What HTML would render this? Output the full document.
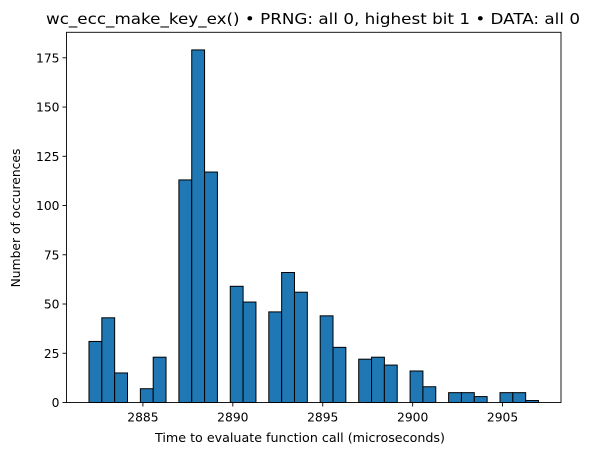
<!DOCTYPE html>
<html><head><meta charset="utf-8"><style>
body{margin:0;background:#fff;font-family:"Liberation Sans","DejaVu Sans",sans-serif}
svg text{font-family:"DejaVu Sans","Liberation Sans",sans-serif;fill:#000}
</style></head><body>
<svg id="c" width="591" height="455" xmlns="http://www.w3.org/2000/svg"></svg>
<script>
const binStart = 2882;
const binEnd = 2907;
const counts = [31,43,15,0,7,23,0,113,179,117,0,59,51,0,46,66,56,0,44,28,0,22,23,19,0,16,8,0,5,5,3,0,5,5,1];
const xTicks = [2885,2890,2895,2900,2905];
const yTicks = [0,25,50,75,100,125,150,175];
const title = "wc_ecc_make_key_ex() \u2022 PRNG: all 0, highest bit 1 \u2022 DATA: all 0";

const L=66.5,R=561,T=32.3,B=402.5;
const bw=(binEnd-binStart)/counts.length;
const pad=(binEnd-binStart)*0.05;
const xmin=binStart-pad,xmax=binEnd+pad;
const ymax=Math.max(...counts)*1.05;
const X=v=>L+(v-xmin)/(xmax-xmin)*(R-L);
const Y=v=>B-v/ymax*(B-T);
const svg=document.getElementById('c');
const NS="http://www.w3.org/2000/svg";
function mk(tag,attrs,parent){const e=document.createElementNS(NS,tag);for(const k in attrs)e.setAttribute(k,attrs[k]);(parent||svg).appendChild(e);return e;}

const bars=mk('g',{});


counts.forEach((c,i)=>{
  if(c<=0)return;
  const x0=X(binStart+i*bw),x1=X(binStart+(i+1)*bw);
  const r=mk('rect',{x:x0,y:Y(c),width:x1-x0,height:Y(0)-Y(c),fill:'#1f77b4',stroke:'#000','stroke-width':1},bars);
  
  
});

const frame=mk('rect',{x:L,y:T,width:R-L,height:B-T,fill:'none',stroke:'#000','stroke-width':0.9});



const xa=mk('g',{});


xTicks.forEach(t=>{
  const x=X(t);
  mk('line',{x1:x,x2:x,y1:B,y2:B+4,stroke:'#000','stroke-width':0.9},xa);
  const tx=mk('text',{x:x,y:B+19,'text-anchor':'middle','font-size':12.3},xa);
  tx.textContent=t;
  
  
});
const ya=mk('g',{});


yTicks.forEach(t=>{
  const y=Y(t);
  mk('line',{x1:L-4,x2:L,y1:y,y2:y,stroke:'#000','stroke-width':0.9},ya);
  const tx=mk('text',{x:L-7,y:y+4.5,'text-anchor':'end','font-size':12.3},ya);
  tx.textContent=t;
  
  
});
const xt=mk('text',{x:155,y:442,'font-size':12.3,textLength:290,lengthAdjust:'spacingAndGlyphs'});
xt.textContent="Time to evaluate function call (microseconds)";


const yt=mk('text',{x:0,y:0,'text-anchor':'middle','font-size':12.3,transform:'translate(20,218) rotate(-90)'});
yt.textContent="Number of occurences";


const tt=mk('text',{x:46,y:24,'font-size':15.5,textLength:534,lengthAdjust:'spacingAndGlyphs'});
tt.textContent=title;


</script>
</body></html>
